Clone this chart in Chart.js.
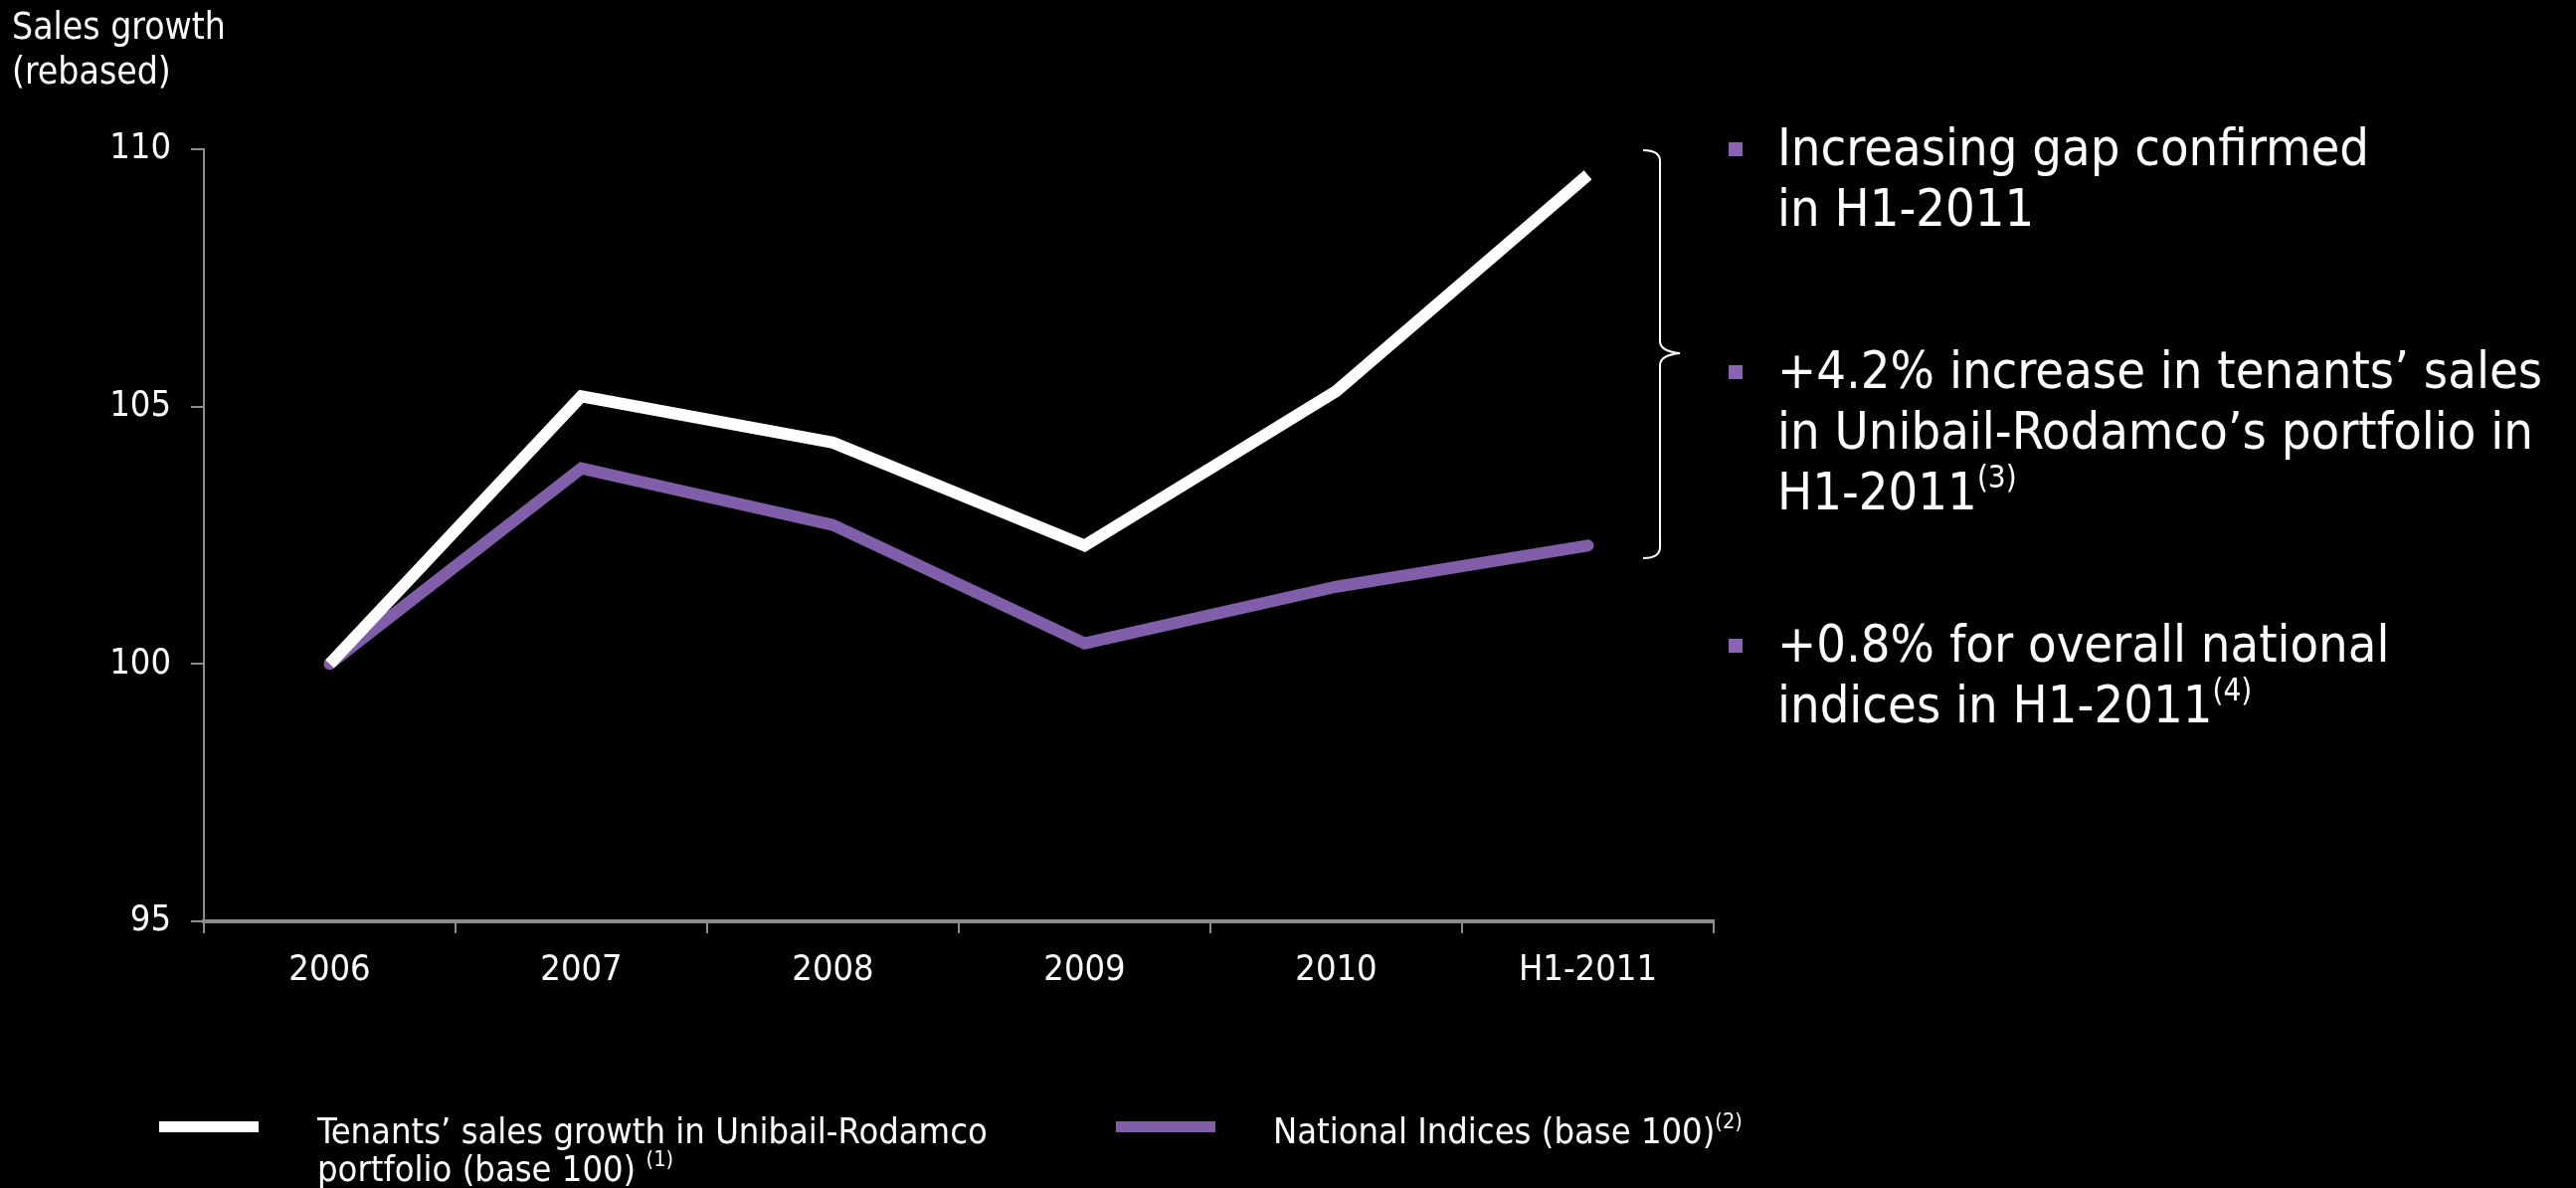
<!DOCTYPE html>
<html>
<head>
<meta charset="utf-8">
<script src="https://cdn.jsdelivr.net/npm/chart.js@4.4.1/dist/chart.umd.min.js"></script>
<style>
  html, body { margin: 0; padding: 0; background: #000; }
  body { width: 2590px; height: 1194px; position: relative; overflow: hidden;
         font-family: "DejaVu Sans Condensed", "DejaVu Sans", sans-serif; color: #fff; }
  #wrap { position: absolute; left: 0; top: 0; width: 2590px; height: 1194px; }
  .axisTitle { position: absolute; left: 12px; top: 4px; font-size: 37px; line-height: 45px; }
  .notes { position: absolute; left: 1738px; top: 118px; font-size: 52px; line-height: 61px; white-space: nowrap; }
  .notes p { margin: 0; padding-left: 49px; position: relative; }
  .notes p::before { content: ""; position: absolute; left: 0; top: 25px; width: 14px; height: 14px; background: #8a64b4; }
  .notes p.p1 { margin-bottom: 102px; }
  .notes p.p2 { margin-bottom: 92px; }
  sup { font-size: 0.6em; line-height: 0; vertical-align: 0.7em; }
  .legend { position: absolute; top: 1118px; left: 0; font-size: 36px; line-height: 38px; }
  .legend .swatch { position: absolute; top: 9px; height: 11px; }
  .legend .txt { position: absolute; top: 0; white-space: nowrap; }
  svg { position: absolute; left: 0; top: 0; }
</style>
</head>
<body>
<div id="wrap"><canvas id="myChart" width="2590" height="1194"></canvas></div>
<div class="axisTitle">Sales growth<br>(rebased)</div>
<svg width="2590" height="1194">
  <path d="M1652 151 Q1669 151 1669 162 L1669 343 Q1669 353 1689 355 Q1669 357 1669 367 L1669 550 Q1669 561 1652 561"
        fill="none" stroke="#fff" stroke-width="2"/>
</svg>
<div class="notes">
  <p class="p1">Increasing gap confirmed<br>in H1-2011</p>
  <p class="p2">+4.2% increase in tenants’ sales<br>in Unibail-Rodamco’s portfolio in<br>H1-2011<sup>(3)</sup></p>
  <p class="p3">+0.8% for overall national<br>indices in H1-2011<sup>(4)</sup></p>
</div>
<div class="legend" id="legend"></div>
<script>
// categories and series
const categories = ['2006', '2007', '2008', '2009', '2010', 'H1-2011'];
const tenantsSales = [100, 105.2, 104.3, 102.3, 105.3, 109.5];
const nationalIndices = [100, 103.8, 102.7, 100.4, 101.5, 102.3];
const yTicks = [95, 100, 105, 110];

const seriesNames = ['Tenants’ sales growth in Unibail-Rodamco portfolio (base 100)', 'National Indices (base 100)'];
const legendHtml = [
  'Tenants’ sales growth in Unibail-Rodamco<br>portfolio (base 100) <sup>(1)</sup>',
  'National Indices (base 100)<sup>(2)</sup>'
];

const white = '#ffffff';
const purple = '#805eaa';
const axisGrey = '#8c8c8c';
const font = '"DejaVu Sans Condensed", "DejaVu Sans", sans-serif';

const ctx = document.getElementById('myChart').getContext('2d');
const myChart = new Chart(ctx, {
  type: 'line',
  data: {
    labels: categories,
    datasets: [{
      label: seriesNames[0],
      data: tenantsSales,
      borderColor: white,
      borderWidth: 12,
      pointRadius: 0,
      tension: 0,
      borderJoinStyle: 'miter'
    }, {
      label: seriesNames[1],
      data: nationalIndices,
      borderColor: purple,
      borderWidth: 12,
      pointRadius: 0,
      tension: 0,
      borderCapStyle: 'round'
    }]
  },
  options: {
    responsive: false,
    animation: false,
    layout: { padding: { left: 0, top: 150, right: 867, bottom: 188 } },
    plugins: { legend: { display: false }, tooltip: { enabled: false } },
    scales: {
      x: {
        offset: true,
        grid: { offset: true, drawOnChartArea: false, drawTicks: true, tickLength: 12, color: axisGrey, lineWidth: 2 },
        border: { display: true, color: axisGrey, width: 4 },
        ticks: { color: white, font: { family: font, size: 36 }, padding: 16, maxRotation: 0 },
        afterFit: (axis) => { axis.height = 80; }
      },
      y: {
        min: 95,
        max: 110,
        afterBuildTicks: (axis) => { axis.ticks = yTicks.map(v => ({ value: v })); },
        grid: { drawOnChartArea: false, drawTicks: true, tickLength: 13, color: axisGrey, lineWidth: 2 },
        border: { display: true, color: axisGrey, width: 2 },
        ticks: { color: white, font: { family: font, size: 36 }, padding: 20 },
        afterFit: (axis) => { axis.width = 205; }
      }
    }
  }
});

// legend below the chart
const legend = document.getElementById('legend');
const legendPos = [{ swatch: 160, text: 319, color: white }, { swatch: 1122, text: 1280, color: purple }];
legendHtml.forEach((html, i) => {
  const p = legendPos[i];
  const sw = document.createElement('div');
  sw.className = 'swatch';
  sw.style.left = p.swatch + 'px';
  sw.style.width = '100px';
  sw.style.background = p.color;
  const tx = document.createElement('div');
  tx.className = 'txt';
  tx.style.left = p.text + 'px';
  tx.innerHTML = html;
  legend.appendChild(sw);
  legend.appendChild(tx);
});
</script>
</body>
</html>
